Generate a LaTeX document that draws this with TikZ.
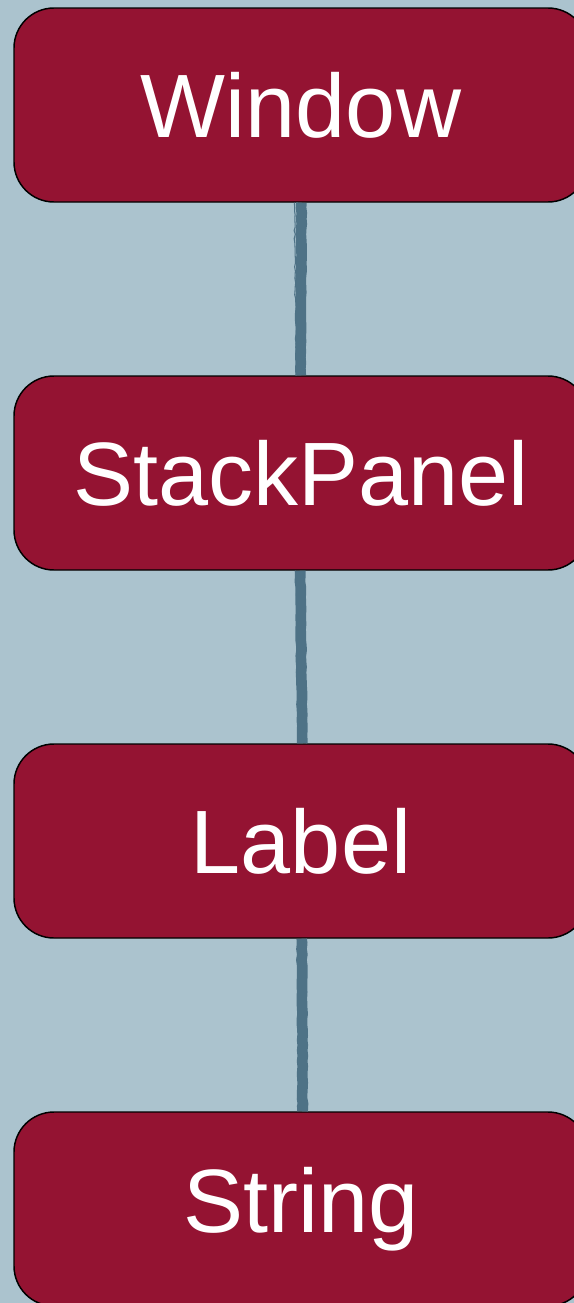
\documentclass[tikz,border=0pt]{standalone}
\usepackage{fontspec}
\setmainfont{Liberation Sans}
\usetikzlibrary{decorations.pathmorphing}
\definecolor{bgblue}{RGB}{171,195,206}
\definecolor{boxred}{RGB}{148,19,50}
\definecolor{linkblue}{RGB}{78,114,134}
\tikzset{
  classbox/.style={draw=black, line width=1.1pt, fill=boxred, text=white,
    rounded corners=30pt, minimum width=430.5pt, minimum height=145.5pt,
    inner sep=0pt, font=\fontsize{67.5}{80}\selectfont},
  brush/.style={draw=linkblue, line width=8pt,
    decorate, decoration={random steps, segment length=4pt, amplitude=0.35pt}},
  streak/.style={draw=linkblue, line width=0.8pt,
    decorate, decoration={random steps, segment length=3pt, amplitude=0.5pt}}
}
\begin{document}
\begin{tikzpicture}[x=0.75pt,y=0.75pt,yscale=-1,xscale=1]
%background, fixes the page size
\fill [bgblue] (0,0) rectangle (574,1303);
\useasboundingbox (0,0) rectangle (574,1303);
\clip (0,0) rectangle (574,1303);

% Class boxes
\node [classbox] (window) at (301,105) {Window};
\node [classbox] (stackpanel) at (301,473) {StackPanel};
\node [classbox] (label) at (301,841) {Label};
\node [classbox] (string) at (301,1209) {String};

% Links
\draw [brush] ([xshift=0.3pt]window.south) -- ([xshift=-0.2pt]stackpanel.north);
\draw [streak] ([xshift=-5pt]window.south) -- ([xshift=-3.6pt]stackpanel.north);
\draw [brush] ([xshift=-0.6pt]stackpanel.south) -- ([xshift=1pt]label.north);
\draw [streak] ([xshift=-4.2pt]stackpanel.south) -- ([xshift=4pt]label.north);
\draw [brush] ([xshift=0.6pt]label.south) -- ([xshift=1.2pt]string.north);
\draw [streak] ([xshift=4pt]label.south) -- ([xshift=-2.4pt]string.north);

\end{tikzpicture}
\end{document}
